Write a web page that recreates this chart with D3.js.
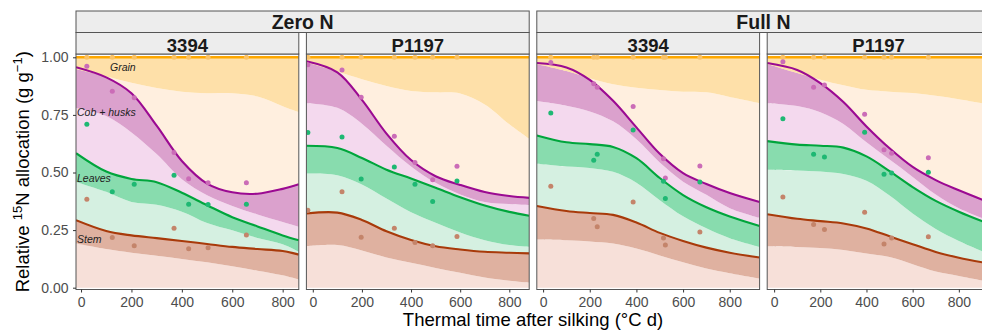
<!DOCTYPE html>
<html>
<head>
<meta charset="utf-8">
<script src="https://cdn.jsdelivr.net/npm/d3@7"></script>
<style>
  body { margin: 0; background: #fff; }
  svg { display: block; font-family: "Liberation Sans", Arial, sans-serif; }
</style>
</head>
<body>
<svg id="chart" width="982" height="333"></svg>
<script>
// facets
const nLevels = ['Zero N', 'Full N'];
const hybrids = ['3394', 'P1197', '3394', 'P1197'];
const xDomains = [[-20, 864], [-26, 881], [-27, 928], [-30, 935]];
const xTicks = [0, 200, 400, 600, 800];
const yTicks = [0, 0.25, 0.5, 0.75, 1];

// fitted curves, read at these thermal times (one row per panel)
const gridX = [
  [-20, 100, 200, 300, 400, 500, 600, 700, 800, 864],
  [-26, 100, 200, 300, 400, 500, 600, 700, 800, 881],
  [-27, 100, 200, 300, 400, 500, 600, 700, 800, 928],
  [-30, 100, 200, 300, 400, 500, 600, 700, 800, 935]
];
const stemLower = [
  [0.192, 0.168, 0.152, 0.139, 0.125, 0.110, 0.093, 0.074, 0.054, 0.036],
  [0.180, 0.185, 0.162, 0.131, 0.108, 0.086, 0.065, 0.044, 0.030, 0.022],
  [0.209, 0.206, 0.201, 0.192, 0.170, 0.140, 0.110, 0.083, 0.063, 0.040],
  [0.180, 0.177, 0.172, 0.164, 0.148, 0.133, 0.102, 0.070, 0.051, 0.025]
];
const stemLine = [
  [0.293, 0.246, 0.227, 0.215, 0.203, 0.190, 0.177, 0.168, 0.159, 0.144],
  [0.322, 0.326, 0.294, 0.245, 0.207, 0.180, 0.166, 0.156, 0.152, 0.149],
  [0.355, 0.333, 0.324, 0.316, 0.283, 0.238, 0.203, 0.174, 0.152, 0.131],
  [0.319, 0.299, 0.289, 0.279, 0.257, 0.223, 0.189, 0.155, 0.130, 0.104]
];
const leavesLower = [
  [0.459, 0.416, 0.372, 0.360, 0.330, 0.281, 0.249, 0.216, 0.189, 0.156],
  [0.495, 0.488, 0.448, 0.387, 0.328, 0.282, 0.240, 0.206, 0.185, 0.177],
  [0.538, 0.526, 0.520, 0.503, 0.456, 0.380, 0.310, 0.258, 0.215, 0.177],
  [0.512, 0.509, 0.504, 0.493, 0.464, 0.400, 0.322, 0.255, 0.203, 0.144]
];
const leavesLine = [
  [0.584, 0.504, 0.472, 0.458, 0.412, 0.358, 0.306, 0.266, 0.227, 0.206],
  [0.616, 0.606, 0.563, 0.512, 0.474, 0.434, 0.393, 0.357, 0.329, 0.312],
  [0.661, 0.631, 0.623, 0.611, 0.562, 0.476, 0.402, 0.349, 0.309, 0.268],
  [0.636, 0.621, 0.616, 0.608, 0.570, 0.506, 0.437, 0.377, 0.330, 0.275]
];
const cobLower = [
  [0.780, 0.745, 0.674, 0.580, 0.471, 0.401, 0.355, 0.318, 0.285, 0.264],
  [0.801, 0.781, 0.712, 0.616, 0.526, 0.455, 0.405, 0.372, 0.363, 0.358],
  [0.810, 0.790, 0.765, 0.722, 0.644, 0.543, 0.460, 0.403, 0.345, 0.303],
  [0.801, 0.789, 0.762, 0.711, 0.631, 0.556, 0.481, 0.404, 0.345, 0.289]
];
const cobLine = [
  [0.957, 0.913, 0.844, 0.703, 0.550, 0.452, 0.414, 0.408, 0.429, 0.449],
  [0.983, 0.935, 0.815, 0.669, 0.554, 0.484, 0.446, 0.415, 0.398, 0.390],
  [0.975, 0.956, 0.902, 0.811, 0.696, 0.581, 0.497, 0.450, 0.411, 0.372],
  [0.975, 0.945, 0.888, 0.806, 0.700, 0.605, 0.524, 0.467, 0.423, 0.369]
];
const grainLower = [
  [0.949, 0.917, 0.890, 0.867, 0.851, 0.844, 0.844, 0.830, 0.788, 0.762],
  [0.978, 0.938, 0.905, 0.875, 0.854, 0.848, 0.843, 0.795, 0.709, 0.646],
  [0.971, 0.940, 0.909, 0.883, 0.868, 0.858, 0.851, 0.848, 0.828, 0.801],
  [0.971, 0.932, 0.903, 0.879, 0.859, 0.851, 0.845, 0.833, 0.818, 0.794]
];
const grainLine = [
  [1, 1, 1, 1, 1, 1, 1, 1, 1, 1],
  [1, 1, 1, 1, 1, 1, 1, 1, 1, 1],
  [1, 1, 1, 1, 1, 1, 1, 1, 1, 1],
  [1, 1, 1, 1, 1, 1, 1, 1, 1, 1]
];

// observed points
const obsX = [
  [23, 124, 211, 369, 427, 504, 656],
  [-20, 119, 197, 332, 416, 488, 587],
  [33, 217, 232, 386, 516, 524, 672],
  [38, 171, 218, 392, 476, 509, 668]
];
const obsGrain = [
  [1, 1, 1, 1, 1, 1, 1],
  [1, 1, 1, 1, 1, 1, 1],
  [1, 1, 1, 1, 1, 1, 1],
  [1, 1, 1, 1, 1, 1, 1]
];
const obsCob = [
  [0.961, 0.853, 0.824, 0.587, 0.473, 0.456, 0.456],
  [0.968, 0.945, 0.827, 0.657, 0.543, 0.469, 0.527],
  [0.977, 0.885, 0.870, 0.786, 0.560, 0.476, 0.528],
  [0.981, 0.870, 0.880, 0.753, 0.599, 0.584, 0.564]
];
const obsLeaves = [
  [0.709, 0.416, 0.449, 0.488, 0.362, 0.361, 0.362],
  [0.674, 0.654, 0.472, 0.524, 0.449, 0.374, 0.463],
  [0.758, 0.553, 0.579, 0.685, 0.462, 0.387, 0.459],
  [0.733, 0.579, 0.567, 0.675, 0.492, 0.498, 0.501]
];
const obsStem = [
  [0.384, 0.218, 0.182, 0.258, 0.169, 0.173, 0.229],
  [0.336, 0.416, 0.219, 0.258, 0.196, 0.182, 0.222],
  [0.440, 0.300, 0.264, 0.372, 0.216, 0.185, 0.242],
  [0.394, 0.274, 0.253, 0.328, 0.190, 0.216, 0.221]
];

// component labels (first panel only)
const compLabels = ['Grain', 'Cob + husks', 'Leaves', 'Stem'];
const labelX = [115, -16, -16, -16];
const labelY = [0.957, 0.763, 0.476, 0.211];

const colors = {
  stem:   { line: '#a83a0a', dark: '#dfb1a0', light: '#f7e0d9', dot: '#c4846a' },
  leaves: { line: '#00a53c', dark: '#88dcae', light: '#d5f0e1', dot: '#1eb873' },
  cob:    { line: '#9b0a92', dark: '#dba1cd', light: '#f4d9ee', dot: '#cb6cb7' },
  grain:  { line: '#ffa800', dark: '#fee0a9', light: '#ffefdf', dot: '#fac266' }
};

const svg = d3.select('#chart');

const left0 = 76, pw = 222.8, gap = 7.6;
const plotTop = 54, plotBottom = 289.5;
const stripH = 21.5, stripTop = 11;

const y = d3.scaleLinear().domain([0, 1]).range([287.7, 57.3]);
const panelX = i => left0 + i * (pw + gap);
const smooth = d3.curveCatmullRom.alpha(0.5);

// zero line under the stack
const zeros = gridX.map(r => r.map(() => 0));

// layers drawn bottom to top: [lowerEdge, upperEdge, fill]
const bands = [
  [zeros, stemLower, colors.stem.light],
  [stemLower, stemLine, colors.stem.dark],
  [stemLine, leavesLower, colors.leaves.light],
  [leavesLower, leavesLine, colors.leaves.dark],
  [leavesLine, cobLower, colors.cob.light],
  [cobLower, cobLine, colors.cob.dark],
  [cobLine, grainLower, colors.grain.light],
  [grainLower, grainLine, colors.grain.dark]
];
const lines = [
  [stemLine, colors.stem.line, 2.1],
  [leavesLine, colors.leaves.line, 2.1],
  [cobLine, colors.cob.line, 2.1],
  [grainLine, colors.grain.line, 2.6]
];
const points = [
  [obsGrain, colors.grain.dot],
  [obsCob, colors.cob.dot],
  [obsLeaves, colors.leaves.dot],
  [obsStem, colors.stem.dot]
];

hybrids.forEach((h, i) => {
  const px = panelX(i);
  const x = d3.scaleLinear().domain(xDomains[i]).range([px, px + pw]);

  svg.append('clipPath').attr('id', 'clip' + i)
    .append('rect')
    .attr('x', px).attr('y', plotTop)
    .attr('width', pw).attr('height', plotBottom - plotTop);

  const g = svg.append('g').attr('clip-path', 'url(#clip' + i + ')');

  g.append('rect')
    .attr('x', px).attr('y', plotTop)
    .attr('width', pw).attr('height', plotBottom - plotTop)
    .attr('fill', '#fff');

  bands.forEach(([lo, hi, fill]) => {
    const area = d3.area()
      .x((d, k) => x(gridX[i][k]))
      .y0((d, k) => y(lo[i][k]))
      .y1((d, k) => y(hi[i][k]))
      .curve(smooth);
    g.append('path')
      .datum(gridX[i])
      .attr('d', area)
      .attr('fill', fill);
  });

  lines.forEach(([vals, stroke, w]) => {
    const line = d3.line()
      .x((d, k) => x(gridX[i][k]))
      .y((d, k) => y(vals[i][k]))
      .curve(smooth);
    g.append('path')
      .datum(gridX[i])
      .attr('d', line)
      .attr('fill', 'none')
      .attr('stroke', stroke)
      .attr('stroke-width', w)
      .attr('stroke-linejoin', 'round');
  });

  points.forEach(([vals, fill]) => {
    g.selectAll(null)
      .data(obsX[i])
      .enter()
      .append('circle')
      .attr('cx', d => x(d))
      .attr('cy', (d, k) => y(vals[i][k]))
      .attr('r', 2.5)
      .attr('fill', fill);
  });

  if (i === 0) {
    compLabels.forEach((t, k) => {
      g.append('text')
        .attr('x', x(labelX[k]))
        .attr('y', y(labelY[k]))
        .attr('dy', '0.35em')
        .attr('font-size', 10.5)
        .attr('font-style', 'italic')
        .attr('fill', '#222')
        .text(t);
    });
  }

  // panel border
  svg.append('rect')
    .attr('x', px).attr('y', plotTop)
    .attr('width', pw).attr('height', plotBottom - plotTop)
    .attr('fill', 'none')
    .attr('stroke', '#555')
    .attr('stroke-width', 1);

  // hybrid strip
  svg.append('rect')
    .attr('x', px).attr('y', stripTop + stripH)
    .attr('width', pw).attr('height', stripH)
    .attr('fill', '#ededed')
    .attr('stroke', '#555')
    .attr('stroke-width', 1);
  svg.append('text')
    .attr('x', px + pw / 2)
    .attr('y', stripTop + stripH + 19)
    .attr('text-anchor', 'middle')
    .attr('font-size', 18.5)
    .attr('font-weight', 'bold')
    .attr('fill', '#1a1a1a')
    .text(h);

  // x axis
  const ax = svg.append('g')
    .attr('transform', 'translate(0,' + plotBottom + ')')
    .call(d3.axisBottom(x).tickValues(xTicks).tickSize(3).tickPadding(5));
  ax.select('.domain').remove();
  ax.selectAll('line').attr('stroke', '#333');
  ax.selectAll('text')
    .attr('font-size', 14)
    .attr('font-family', '"Liberation Sans", Arial, sans-serif')
    .attr('fill', '#4d4d4d');
});

// N level strips
nLevels.forEach((n, j) => {
  const sx = panelX(j * 2);
  const sw = pw * 2 + gap;
  svg.append('rect')
    .attr('x', sx).attr('y', stripTop)
    .attr('width', sw).attr('height', stripH)
    .attr('fill', '#ededed')
    .attr('stroke', '#555')
    .attr('stroke-width', 1);
  svg.append('text')
    .attr('x', sx + sw / 2)
    .attr('y', stripTop + 18.3)
    .attr('text-anchor', 'middle')
    .attr('font-size', 19.5)
    .attr('font-weight', 'bold')
    .attr('fill', '#1a1a1a')
    .text(n);
});

// y axis
const ay = svg.append('g')
  .attr('transform', 'translate(' + left0 + ',0)')
  .call(d3.axisLeft(y).tickValues(yTicks).tickFormat(d3.format('.2f')).tickSize(3).tickPadding(4.5));
ay.select('.domain').remove();
ay.selectAll('line').attr('stroke', '#333');
ay.selectAll('text')
  .attr('font-size', 14)
  .attr('font-family', '"Liberation Sans", Arial, sans-serif')
  .attr('fill', '#4d4d4d');

// axis titles
svg.append('text')
  .attr('x', (left0 + panelX(3) + pw) / 2)
  .attr('y', 325.5)
  .attr('text-anchor', 'middle')
  .attr('font-size', 18.5)
  .attr('fill', '#000')
  .text('Thermal time after silking (°C d)');

const yt = svg.append('text')
  .attr('transform', 'translate(28.5,' + ((plotTop + plotBottom) / 2) + ') rotate(-90)')
  .attr('text-anchor', 'middle')
  .attr('font-size', 18.5)
  .attr('fill', '#000');
yt.append('tspan').text('Relative ');
yt.append('tspan').attr('font-size', 13).attr('dy', -7).text('15');
yt.append('tspan').attr('dy', 7).text('N allocation (g g');
yt.append('tspan').attr('font-size', 13).attr('dy', -7).text('\u22121');
yt.append('tspan').attr('dy', 7).text(')');
</script>
</body>
</html>
